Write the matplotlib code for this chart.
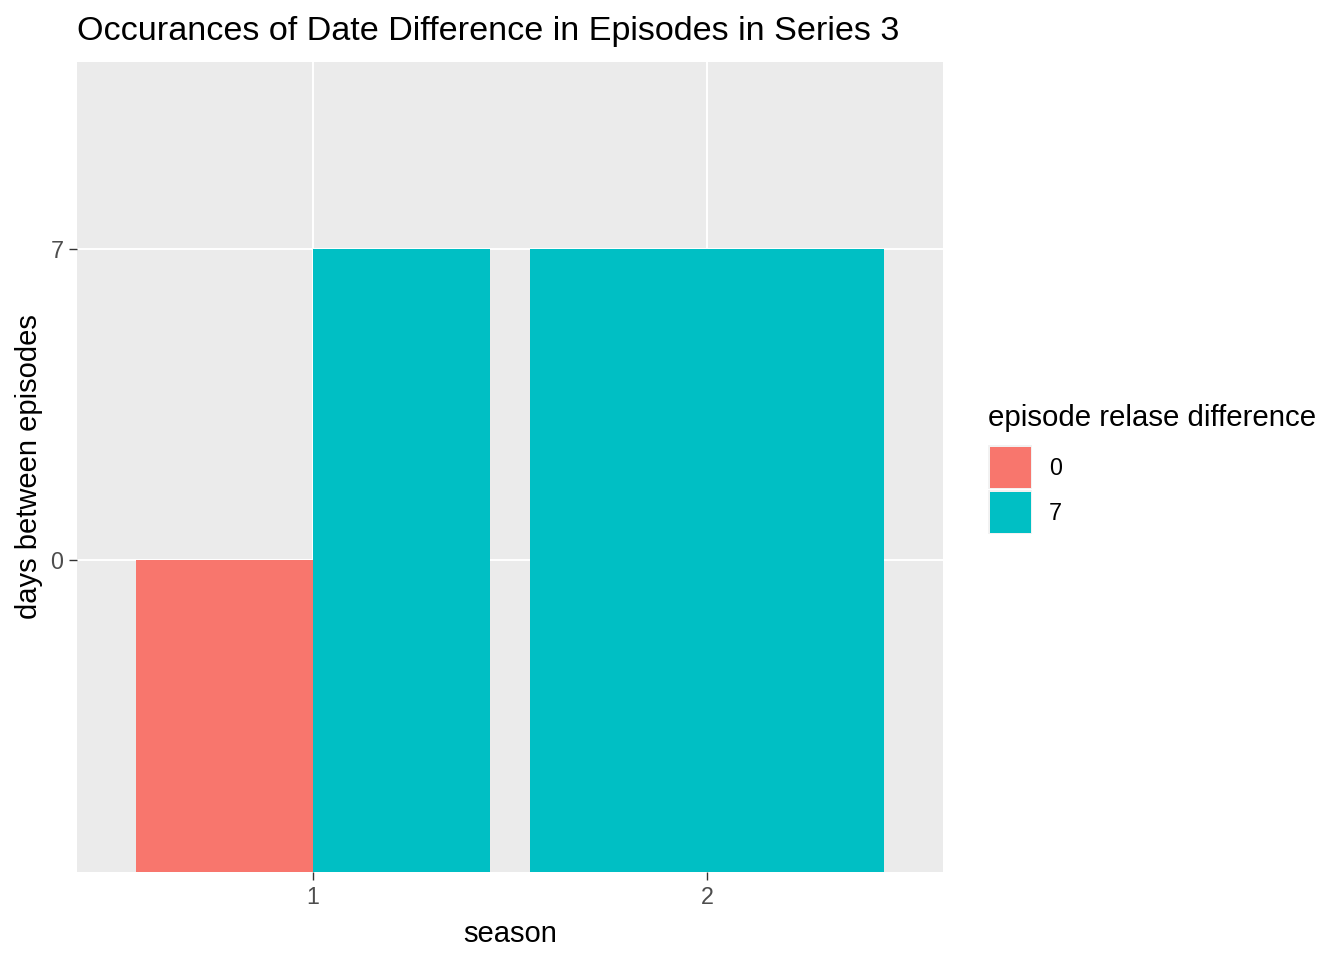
import matplotlib
matplotlib.use("Agg")
import matplotlib.pyplot as plt
from matplotlib.patches import Rectangle

plt.rcParams['font.family'] = ['Liberation Sans', 'DejaVu Sans']

# data
seasons = [1, 2]
season_labels = ["1", "2"]
y_levels = ["0", "7"]          # discrete y levels (days between episodes)
fill_levels = ["0", "7"]       # episode release difference
fill_colors = ["#F8766D", "#00BFC4"]
# bars: (season, fill level index, y level index, dodge slot, dodge count)
bar_season = [1, 1, 2]
bar_fill = [0, 1, 1]
bar_ylevel = [1, 2, 2]
bar_slot = [0, 1, 0]
bar_nslots = [2, 2, 1]

W, H = 1344, 960
fig = plt.figure(figsize=(W / 200, H / 200), dpi=200)
ax = fig.add_axes([77 / W, 1 - 872 / H, (943 - 77) / W, (872 - 62) / H])
ax.set_facecolor("#EBEBEB")

total_w = 0.9
for s, f, yl, slot, n in zip(bar_season, bar_fill, bar_ylevel, bar_slot, bar_nslots):
    w = total_w / n
    left = s - total_w / 2 + slot * w
    ax.bar(left, yl, width=w, align="edge", color=fill_colors[f], linewidth=0, zorder=3)

ax.set_xlim(0.4, 2.6)
ax.set_ylim(0, 2.6)
ax.set_xticks(seasons)
ax.set_xticklabels(season_labels)
ax.set_yticks([1, 2])
ax.set_yticklabels(y_levels)
ax.grid(True, color="white", linewidth=0.7, zorder=0)
ax.set_axisbelow(True)
for sp in ax.spines.values():
    sp.set_visible(False)
ax.tick_params(axis="both", length=2.75, width=0.5, color="#333333",
               labelcolor="#4D4D4D", labelsize=8.4, pad=2.2)

ax.set_xlabel("season", fontsize=10.5, color="black", labelpad=4)
ax.set_ylabel("days between episodes", fontsize=10.5, color="black", labelpad=2.5)
ax.set_title("Occurances of Date Difference in Episodes in Series 3", fontsize=12.3,
             loc="left", pad=8, color="black")

# legend (manual)
fig.text(988 / W, 1 - 418 / H, "episode relase difference", fontsize=10.6,
         va="center", ha="left")
key_tops = [445, 490]
for i, lab in enumerate(fill_levels):
    y0 = key_tops[i]
    fig.add_artist(Rectangle((988 / W, 1 - (y0 + 44) / H), 44 / W, 44 / H,
                             transform=fig.transFigure, facecolor="#F2F2F2",
                             edgecolor="none"))
    fig.add_artist(Rectangle((989.5 / W, 1 - (y0 + 42.5) / H), 41 / W, 41 / H,
                             transform=fig.transFigure, facecolor=fill_colors[i],
                             edgecolor="none"))
    fig.text(1049 / W, 1 - (y0 + 23) / H, lab, fontsize=8.4, va="center", ha="left")

fig.savefig("out.png", dpi=200)
